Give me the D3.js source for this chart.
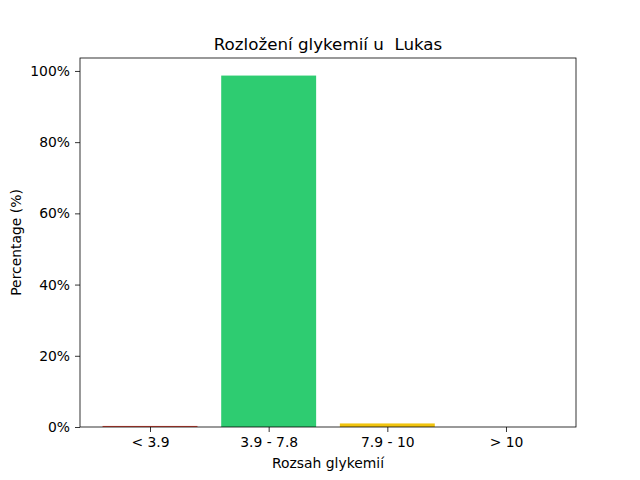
<!DOCTYPE html>
<html>
<head>
<meta charset="utf-8">
<script src="https://cdn.jsdelivr.net/npm/d3@7"></script>
<style>
  body { margin: 0; background: #fff; }
  text { font-family: "DejaVu Sans", sans-serif; fill: #000; }
</style>
</head>
<body>
<div id="chart"></div>
<script>
// data
const categories = ['< 3.9', '3.9 - 7.8', '7.9 - 10', '> 10'];
const percentages = [0.3, 98.7, 1.0, 0.0];
const barColors = ['#e74c3c', '#2ecc71', '#f1c40f', '#e67e22'];
const yTicks = [0, 20, 40, 60, 80, 100];

const width = 640, height = 480;
const margin = {top: 58, right: 64, bottom: 53, left: 80};
const innerW = width - margin.left - margin.right;
const innerH = height - margin.top - margin.bottom;

const svg = d3.select('#chart').append('svg')
  .attr('width', width)
  .attr('height', height);

const g = svg.append('g')
  .attr('transform', `translate(${margin.left},${margin.top})`);

// matplotlib-like limits: bars of width 0.8 with 5% margins
const x = d3.scaleLinear()
  .domain([-0.59, categories.length - 1 + 0.59])
  .range([0, innerW]);
const y = d3.scaleLinear()
  .domain([0, d3.max(percentages) * 1.05])
  .range([innerH, 0]);

// bars
g.selectAll('rect.bar')
  .data(percentages)
  .enter().append('rect')
  .attr('class', 'bar')
  .attr('x', (d, i) => x(i - 0.4))
  .attr('width', x(0.8) - x(0))
  .attr('y', d => y(d))
  .attr('height', d => y(0) - y(d))
  .attr('fill', (d, i) => barColors[i]);

// axes
const xAxis = d3.axisBottom(x)
  .tickValues(d3.range(categories.length))
  .tickFormat(i => categories[i])
  .tickSizeInner(5).tickSizeOuter(0).tickPadding(5);
const yAxis = d3.axisLeft(y)
  .tickValues(yTicks)
  .tickFormat(d => d + '%')
  .tickSizeInner(5).tickSizeOuter(0).tickPadding(5);

const gx = g.append('g').attr('transform', `translate(0,${innerH})`).call(xAxis);
const gy = g.append('g').call(yAxis);
[gx, gy].forEach(a => {
  a.select('.domain').remove();
  a.selectAll('text').style('font-size', '13.9px').style('font-family', '"DejaVu Sans", sans-serif');
  a.selectAll('line').attr('stroke', '#000').attr('stroke-width', 0.8);
});

// frame
g.append('rect')
  .attr('width', innerW).attr('height', innerH)
  .attr('fill', 'none').attr('stroke', '#000').attr('stroke-width', 0.8);

// title and labels
svg.append('text')
  .attr('x', margin.left + innerW / 2).attr('y', margin.top - 8)
  .attr('text-anchor', 'middle')
  .style('font-size', '16.7px')
  .style('white-space', 'pre')
  .text('Rozložení glykemií u  Lukas');

svg.append('text')
  .attr('x', margin.left + innerW / 2).attr('y', 468)
  .attr('text-anchor', 'middle')
  .style('font-size', '13.9px')
  .text('Rozsah glykemií');

svg.append('text')
  .attr('transform', `translate(21,${margin.top + innerH / 2}) rotate(-90)`)
  .attr('text-anchor', 'middle')
  .style('font-size', '13.9px')
  .text('Percentage (%)');
</script>
</body>
</html>
